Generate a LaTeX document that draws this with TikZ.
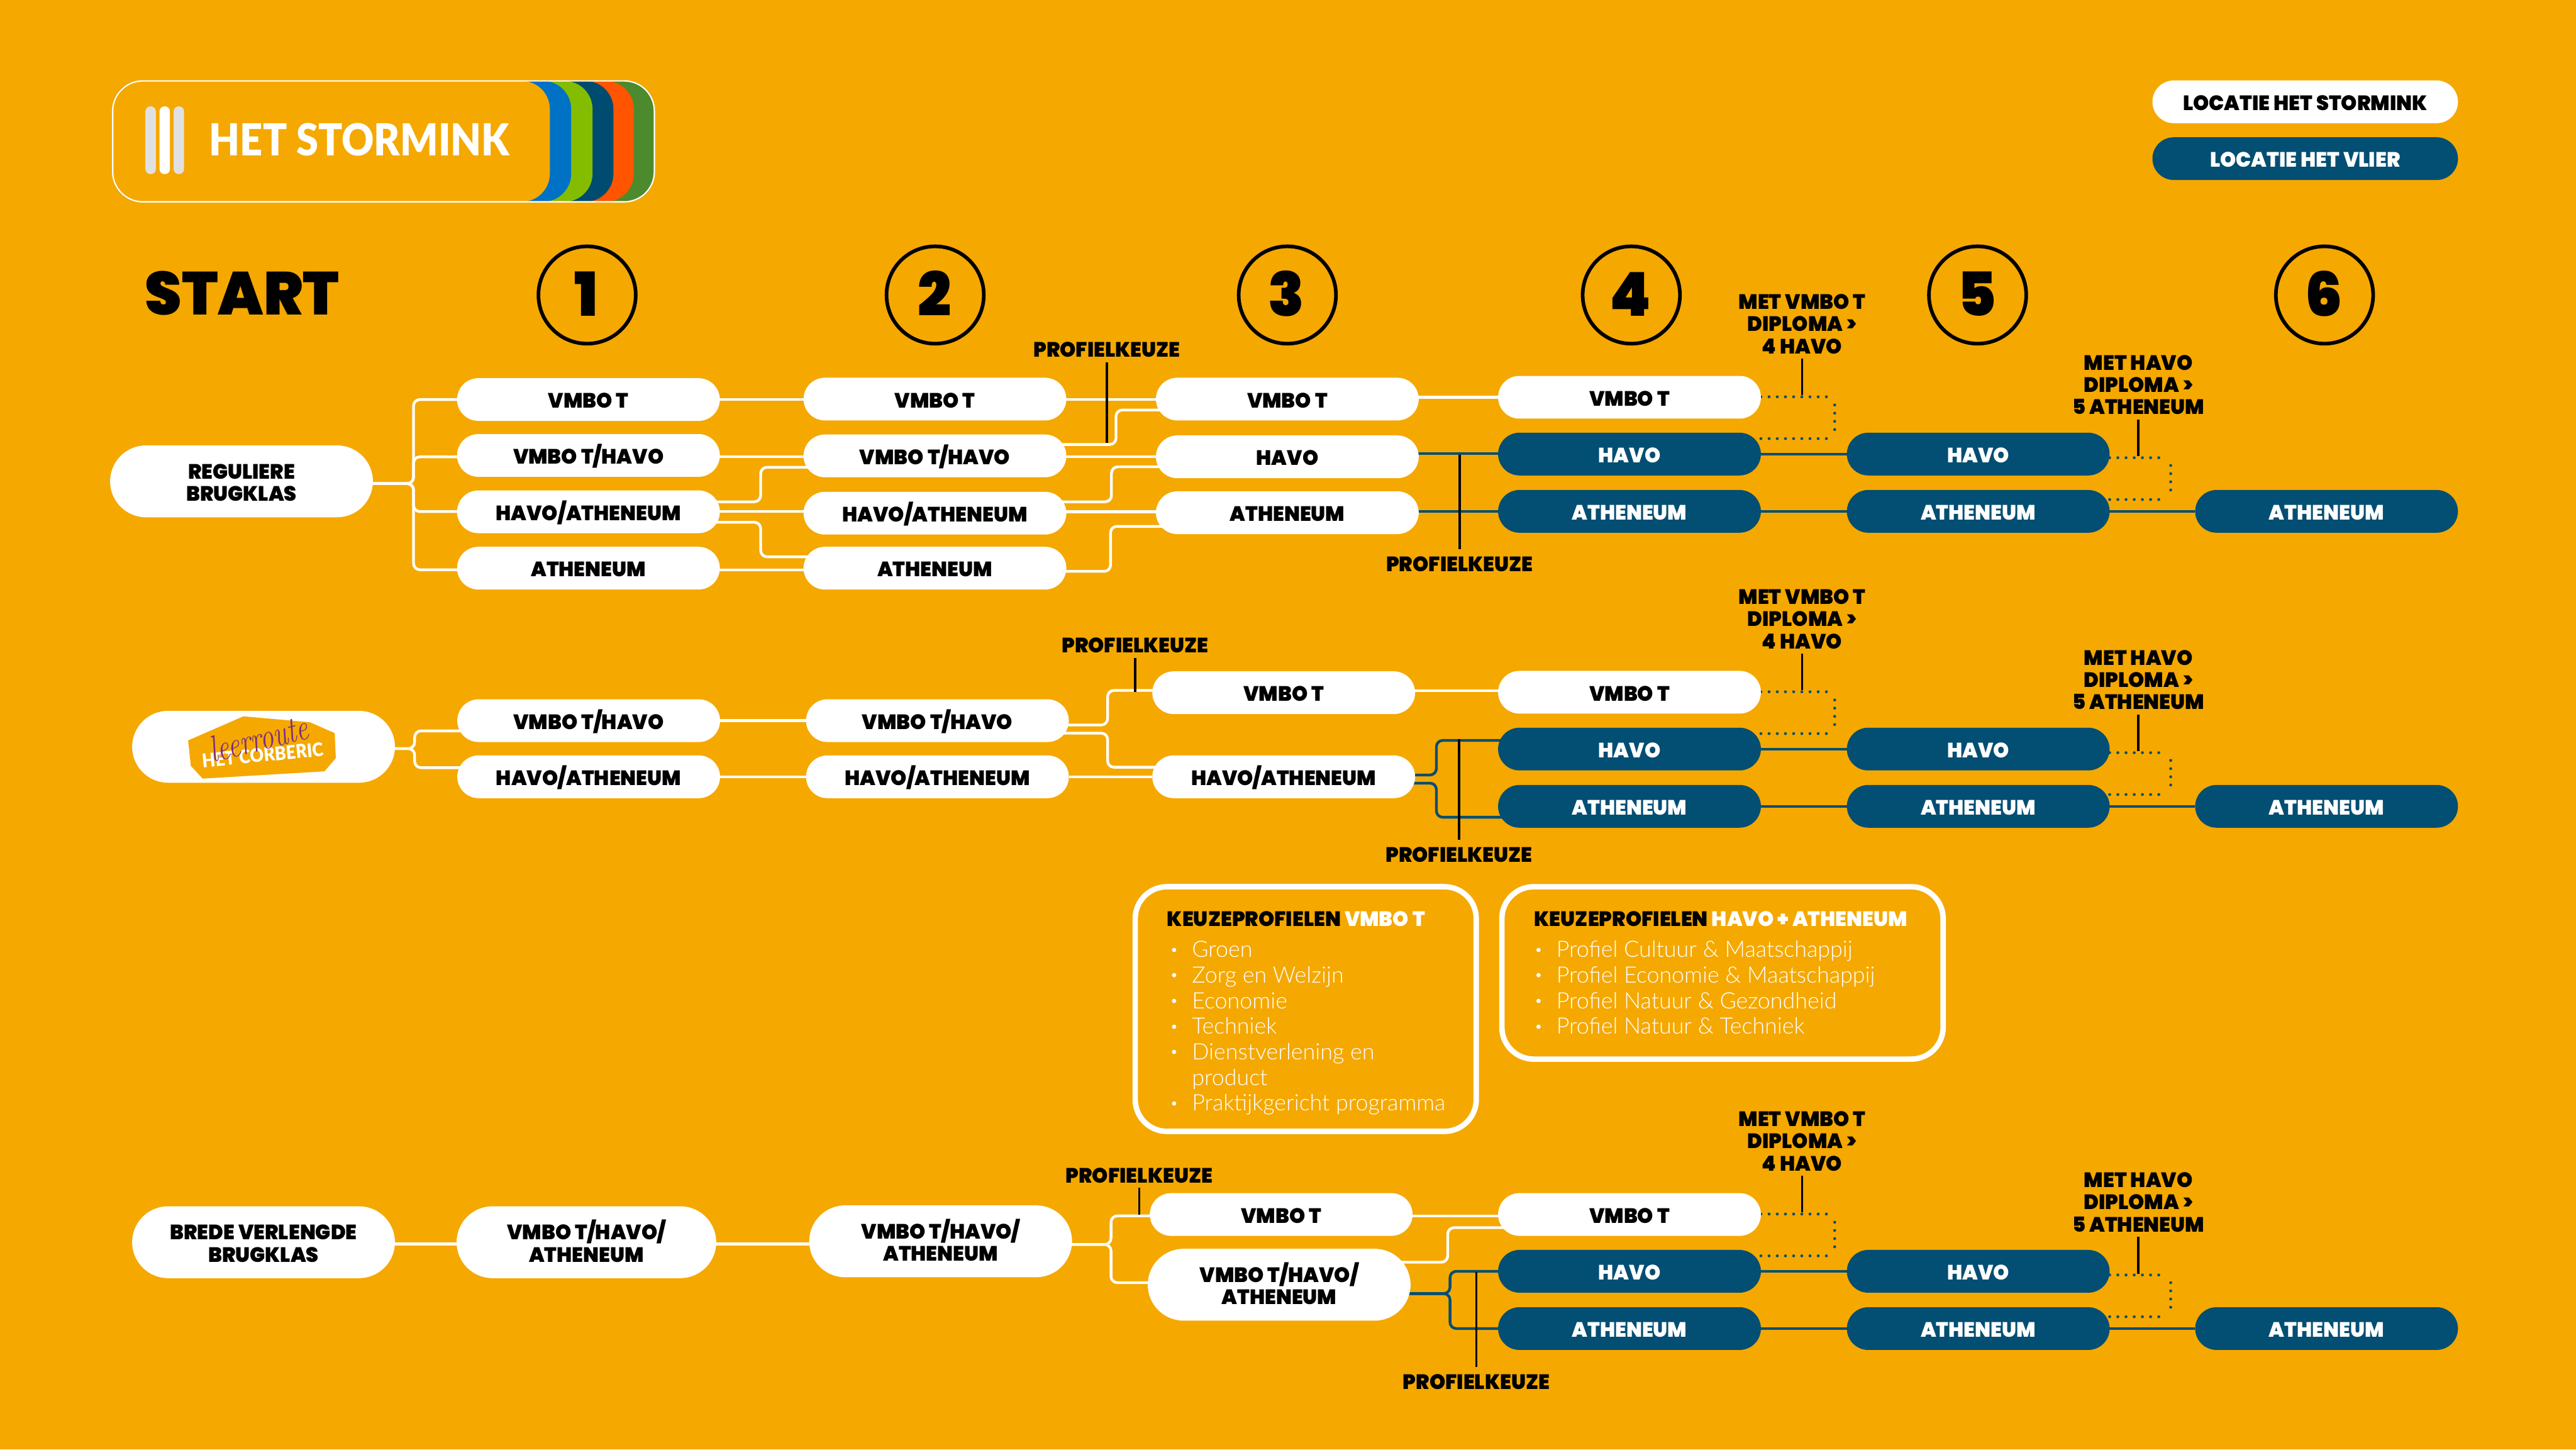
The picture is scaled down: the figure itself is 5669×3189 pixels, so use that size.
\documentclass[tikz,border=0pt]{standalone}
\usepackage{fontspec}
\usetikzlibrary{shapes.misc}
\newfontfamily\blk{Poppins Black}[WordSpace=1.1,FakeStretch=0.97]
\newfontfamily\lgt{Lato Light}
\newfontfamily\logofont{Lato Black}[FakeStretch=0.9]
\definecolor{bgo}{HTML}{F5A800}
\definecolor{navy}{HTML}{034E73}
\definecolor{lblue}{HTML}{0072C6}
\definecolor{lgreen}{HTML}{84BD00}
\definecolor{lnavy}{HTML}{004C70}
\definecolor{lorange}{HTML}{FF5500}
\definecolor{ldgreen}{HTML}{4C8A2D}
\definecolor{lgrey}{HTML}{E0E0E0}
\definecolor{lpurple}{HTML}{7B2D80}
\newcommand\capl[1]{\raisebox{0pt}[.38cm][0pt]{#1}}
\newcommand\lblf{\blk\fontsize{13}{13.94}\selectfont}
\pgfdeclarelayer{conn}
\pgfsetlayers{conn,main}
\tikzset{
  pillw/.style={rounded rectangle,rounded rectangle arc length=180,fill=white,text=black,minimum width=5.78cm,minimum height=.94cm,inner sep=0pt,outer sep=0pt,align=center,font=\lblf},
  pilln/.style={pillw,fill=navy,text=white},
  tall/.style={minimum height=1.58cm},
  wl/.style={draw=white,line width=.06cm,rounded corners=.14cm},
  nl/.style={draw=navy,line width=.06cm,rounded corners=.14cm},
  annot/.style={draw=black,line width=.05cm},
  note/.style={text=black,font=\lblf,align=center,inner sep=.105cm},
  dots/.style={draw=navy,line width=.065cm,line cap=round,dash pattern=on 0pt off .18cm},
  num/.style={circle,draw=black,line width=.08cm,minimum size=2.14cm,inner sep=0pt,text=black,font=\blk\fontsize{38}{38}\selectfont},
  kbox/.style={draw=white,line width=.12cm,rounded corners=.7cm,inner sep=0pt},
  ktitle/.style={anchor=base west,inner sep=0pt,text=black,font=\lblf},
  kitem/.style={anchor=base west,inner sep=0pt,text=white,font=\lgt\fontsize{14.1}{16}\selectfont},
}
\newcommand\kbul[1]{\makebox[.485cm][l]{\raisebox{.06cm}{\fontsize{9}{9}\selectfont•}}#1}
\newcommand\rightpart[2]{%
\begin{scope}[yshift={-#2*0.01cm}]
  \node[pillw] (#1vt) at (3586,874) {\capl{VMBO T}};
  \node[pilln] (#1ha) at (3586,999) {\capl{HAVO}};
  \node[pilln] (#1at) at (3586,1125) {\capl{ATHENEUM}};
  \node[pilln] (#1hb) at (4353.5,999) {\capl{HAVO}};
  \node[pilln] (#1ab) at (4353.5,1125) {\capl{ATHENEUM}};
  \node[pilln] (#1ac) at (5120,1125) {\capl{ATHENEUM}};
  \node[note] (#1mv) at (3966,710) {\capl{MET VMBO T}\\\capl{DIPLOMA >}\\\capl{4 HAVO}};
  \node[note] (#1mh) at (4706,844) {\capl{MET HAVO}\\\capl{DIPLOMA >}\\\capl{5 ATHENEUM}};
  \coordinate (#1mve) at (3966,869);
  \coordinate (#1mhe) at (4706,1004);
  \draw[annot] (#1mv.south) -- (#1mve);
  \draw[annot] (#1mh.south) -- (#1mhe);
  \begin{pgfonlayer}{conn}
    \draw[nl] (#1ha.east) -- (#1hb.west);
    \draw[nl] (#1at.east) -- (#1ab.west);
    \draw[nl] (#1ab.east) -- (#1ac.west);
    \draw[dots] (#1vt.east |- 0,873) -- (4023,873);
    \draw[dots] (4037.5,891) -- (4037.5,948);
    \draw[dots] (#1ha.east |- 0,965) ++(0,0) -- (4023,965);
    \draw[dots] (#1hb.east |- 0,1007) -- (4759,1007);
    \draw[dots] (4777,1024) -- (4777,1082);
    \draw[dots] (#1ab.east |- 0,1099) -- (4759,1099);
  \end{pgfonlayer}
\end{scope}}
\begin{document}
\begin{tikzpicture}[x=0.01cm,y=-0.01cm]
\useasboundingbox (0,0) rectangle (5669,3189);
\begin{pgfonlayer}{conn}
  \fill[bgo] (0,0) rectangle (5669,3189);
\end{pgfonlayer}
% logo
\fill[ldgreen,rounded corners=.62cm] (248,178) rectangle (1440,444);
\fill[lorange,rounded corners=.62cm] (248,178) rectangle (1395,444);
\fill[lnavy,rounded corners=.62cm] (248,178) rectangle (1350,444);
\fill[lgreen,rounded corners=.62cm] (248,178) rectangle (1304,444);
\fill[lblue,rounded corners=.62cm] (248,178) rectangle (1257,444);
\fill[bgo,rounded corners=.62cm] (248,178) rectangle (1210,444);
\draw[white,line width=.03cm,rounded corners=.66cm] (248,178) rectangle (1440,444);
\fill[lgrey,rounded corners=.11cm] (320,234) rectangle (343,383);
\fill[white,rounded corners=.11cm] (351,234) rectangle (374,383);
\fill[lgrey,rounded corners=.11cm] (382,234) rectangle (405,383);
\node[inner sep=0pt,text=white,font=\logofont\fontsize{27.6}{30}\selectfont] (logotxt) at (791,308) {\raisebox{0pt}[.68cm][0pt]{HET STORMINK}};
% legend
\node[pillw,minimum width=6.72cm] (legw) at (5073,224) {\capl{LOCATIE HET STORMINK}};
\node[pilln,minimum width=6.72cm] (legn) at (5073,349) {\capl{LOCATIE HET VLIER}};
% header
\node[inner sep=0pt,text=black,font=\blk\fontsize{38}{38}\selectfont] (start) at (533,646) {\raisebox{0pt}[.94cm][0pt]{START}};
\node[num] (n1) at (1292,649) {\raisebox{0pt}[.94cm][0pt]{1\kern.04cm}};
\node[num] (n2) at (2058,649) {\raisebox{0pt}[.94cm][0pt]{2\kern.04cm}};
\node[num] (n3) at (2833,649) {\raisebox{0pt}[.94cm][0pt]{3\kern.04cm}};
\node[num] (n4) at (3590,649) {\raisebox{0pt}[.94cm][0pt]{4\kern.04cm}};
\node[num] (n5) at (4352,649) {\raisebox{0pt}[.94cm][0pt]{5\kern.04cm}};
\node[num] (n6) at (5115.5,649) {\raisebox{0pt}[.94cm][0pt]{6\kern.04cm}};
% right-hand parts
\rightpart{a}{0}
\rightpart{b}{649}
\rightpart{c}{1798}
% ROW 1
\node[pillw,tall] (as) at (531.5,1059) {\capl{REGULIERE}\\\capl{BRUGKLAS}};
\node[pillw] (a1v) at (1295,879) {\capl{VMBO T}};
\node[pillw] (a1m) at (1295,1002) {\capl{VMBO T/HAVO}};
\node[pillw] (a1h) at (1295,1126) {\capl{HAVO/ATHENEUM}};
\node[pillw] (a1a) at (1295,1250) {\capl{ATHENEUM}};
\node[pillw] (a2v) at (2057.5,878) {\capl{VMBO T}};
\node[pillw] (a2m) at (2057.5,1003) {\capl{VMBO T/HAVO}};
\node[pillw] (a2h) at (2057.5,1129) {\capl{HAVO/ATHENEUM}};
\node[pillw] (a2a) at (2057.5,1250) {\capl{ATHENEUM}};
\node[pillw] (a3v) at (2833,878) {\capl{VMBO T}};
\node[pillw] (a3h) at (2833,1005) {\capl{HAVO}};
\node[pillw] (a3a) at (2833,1128) {\capl{ATHENEUM}};
\node[note] (apt) at (2436,767) {\capl{PROFIELKEUZE}};
\node[note] (apb) at (3212,1238) {\capl{PROFIELKEUZE}};
\coordinate (apte) at (2436,974);
\coordinate (apbe) at (3212,1000);
\draw[annot] (apt.south) -- (apte);
\draw[annot] (apb.north) -- (apbe);
\begin{pgfonlayer}{conn}
  \foreach \t/\y in {a1v/879,a1m/1005,a1h/1125.5,a1a/1253.5}
    \draw[wl] (as.center |- 0,1064) -- (910,1064) -- (910,\y) -- (\t.center |- 0,\y);
  \draw[wl] (a1v.center |- 0,879) -- (a2v.center |- 0,879);
  \draw[wl] (a1m.center |- 0,1005) -- (a2m.center |- 0,1005);
  \draw[wl] (a1h.center |- 0,1125.5) -- (a2h.center |- 0,1125.5);
  \draw[wl] (a1a.center |- 0,1253.5) -- (a2a.center |- 0,1253.5);
  \draw[wl] (a1h.center |- 0,1104) -- (1674,1104) -- (1674,1028) -- (a2m.center |- 0,1028);
  \draw[wl] (a1h.center |- 0,1149) -- (1674,1149) -- (1674,1225) -- (a2a.center |- 0,1225);
  \draw[wl] (a2v.center |- 0,879) -- (a3v.center |- 0,879);
  \draw[wl] (a2m.center |- 0,978) -- (2456,978) -- (2456,902) -- (a3v.center |- 0,902);
  \draw[wl] (a2m.center |- 0,1005) -- (a3h.center |- 0,1005);
  \draw[wl] (a2h.center |- 0,1104) -- (2446,1104) -- (2446,1027) -- (a3h.center |- 0,1027);
  \draw[wl] (a2h.center |- 0,1126) -- (a3a.center |- 0,1126);
  \draw[wl] (a2a.center |- 0,1257) -- (2444,1257) -- (2444,1158) -- (a3a.center |- 0,1158);
  \draw[wl] (a3v.center |- 0,874) -- (avt.center |- 0,874);
  \draw[nl] (a3h.center |- 0,998) -- (aha.center |- 0,998);
  \draw[nl] (a3a.center |- 0,1125.5) -- (aat.center |- 0,1125.5);
\end{pgfonlayer}
% ROW 2
\node[pillw,tall] (bs) at (580,1643) {};
\fill[bgo] (535.7,1576) -- (682,1589) -- (736.6,1613) -- (739,1668) -- (714,1697) -- (446,1713) -- (420,1685) -- (414,1629) -- cycle;
\node[rotate=5.5,inner sep=0pt,text=white,font=\logofont\fontsize{11.8}{12}\selectfont] (bs2) at (578,1661) {HET CORBERIC};
\node[rotate=14,inner sep=0pt,text=lpurple,font=\rmfamily\itshape\fontsize{17}{17}\selectfont] (bs1) at (569,1624) {\scalebox{1}[1.35]{leerroute}};
\node[pillw] (b1m) at (1295.5,1585.5) {\capl{VMBO T/HAVO}};
\node[pillw] (b1h) at (1295.5,1709) {\capl{HAVO/ATHENEUM}};
\node[pillw] (b2m) at (2063,1585.5) {\capl{VMBO T/HAVO}};
\node[pillw] (b2h) at (2063,1709) {\capl{HAVO/ATHENEUM}};
\node[pillw] (b3v) at (2825,1524) {\capl{VMBO T}};
\node[pillw] (b3h) at (2825,1709) {\capl{HAVO/ATHENEUM}};
\node[note] (bpt) at (2498,1417) {\capl{PROFIELKEUZE}};
\node[note] (bpb) at (3211,1878) {\capl{PROFIELKEUZE}};
\coordinate (bpte) at (2498,1523);
\coordinate (bpbe) at (3211,1626);
\draw[annot] (bpt.south) -- (bpte);
\draw[annot] (bpb.north) -- (bpbe);
\begin{pgfonlayer}{conn}
  \draw[wl] (bs.center |- 0,1647) -- (912.5,1647) -- (912.5,1608) -- (b1m.center |- 0,1608);
  \draw[wl] (bs.center |- 0,1647) -- (912.5,1647) -- (912.5,1689) -- (b1h.center |- 0,1689);
  \draw[wl] (b1m.east) -- (b2m.west);
  \draw[wl] (b1h.east) -- (b2h.west);
  \draw[wl] (b2h.east) -- (b3h.west);
  \draw[wl] (b2m.center |- 0,1595) -- (2437.5,1595) -- (2437.5,1519) -- (b3v.center |- 0,1519);
  \draw[wl] (b2m.center |- 0,1613) -- (2437.5,1613) -- (2437.5,1688) -- (b3h.center |- 0,1688);
  \draw[wl] (b3v.center |- 0,1520) -- (bvt.center |- 0,1520);
  \draw[nl] (b3h.center |- 0,1705) -- (3161,1705) -- (3161,1629) -- (bha.center |- 0,1629);
  \draw[nl] (b3h.center |- 0,1723) -- (3161,1723) -- (3161,1798) -- (bat.center |- 0,1798);
\end{pgfonlayer}
% KEUZE boxes
\node[kbox,minimum width=7.50cm,minimum height=5.38cm] (k1) at (2873.5,2220) {};
\node[kbox,minimum width=9.705cm,minimum height=3.79cm] (k2) at (3790.7,2140.5) {};
\node[ktitle] (k1t) at (2568,2038) {KEUZEPROFIELEN {\color{white}VMBO T}};
\node[ktitle] (k2t) at (3376,2038) {KEUZEPROFIELEN {\color{white}HAVO + ATHENEUM}};
\node[kitem] (k1a) at (2574,2106) {\kbul{Groen}};
\node[kitem] (k1b) at (2574,2162) {\kbul{Zorg en Welzijn}};
\node[kitem] (k1c) at (2574,2219) {\kbul{Economie}};
\node[kitem] (k1d) at (2574,2275) {\kbul{Techniek}};
\node[kitem] (k1e) at (2574,2331) {\kbul{Dienstverlening en}};
\node[kitem] (k1f) at (2622.5,2388) {product};
\node[kitem] (k1g) at (2574,2444) {\kbul{Praktijkgericht programma}};
\node[kitem] (k2a) at (3376,2106) {\kbul{Profiel Cultuur \& Maatschappij}};
\node[kitem] (k2b) at (3376,2162) {\kbul{Profiel Economie \& Maatschappij}};
\node[kitem] (k2c) at (3376,2219) {\kbul{Profiel Natuur \& Gezondheid}};
\node[kitem] (k2d) at (3376,2275) {\kbul{Profiel Natuur \& Techniek}};
% ROW 3
\node[pillw,tall] (cs) at (580,2733) {\capl{BREDE VERLENGDE}\\\capl{BRUGKLAS}};
\node[pillw,tall,minimum width=5.71cm] (c1) at (1290.5,2733) {\capl{VMBO T/HAVO/}\\\capl{ATHENEUM}};
\node[pillw,tall] (c2) at (2070,2731) {\capl{VMBO T/HAVO/}\\\capl{ATHENEUM}};
\node[pillw] (c3v) at (2819.5,2672) {\capl{VMBO T}};
\node[pillw,tall] (c3m) at (2815,2826.5) {\capl{VMBO T/HAVO/}\\\capl{ATHENEUM}};
\node[note] (cpt) at (2507,2583) {\capl{PROFIELKEUZE}};
\node[note] (cpb) at (3249,3037) {\capl{PROFIELKEUZE}};
\coordinate (cpte) at (2507,2672);
\coordinate (cpbe) at (3249,2799);
\draw[annot] (cpt.south) -- (cpte);
\draw[annot] (cpb.north) -- (cpbe);
\begin{pgfonlayer}{conn}
  \draw[wl] (cs.center |- 0,2737) -- (c1.center |- 0,2737);
  \draw[wl] (c1.center |- 0,2737) -- (c2.center |- 0,2737);
  \draw[wl] (c2.center |- 0,2738) -- (2445,2738) -- (2445,2675) -- (c3v.center |- 0,2675);
  \draw[wl] (c2.center |- 0,2738) -- (2445,2738) -- (2445,2822) -- (c3m.center |- 0,2822);
  \draw[wl] (c3v.center |- 0,2675) -- (cvt.center |- 0,2675);
  \draw[wl] (c3m.center |- 0,2777) -- (3186,2777) -- (3186,2701) -- (cvt.center |- 0,2701);
  \draw[nl] (c3m.center |- 0,2846) -- (3191,2846) -- (3191,2797) -- (cha.center |- 0,2797);
  \draw[nl] (c3m.center |- 0,2846) -- (3191,2846) -- (3191,2923) -- (cat.center |- 0,2923);
\end{pgfonlayer}
\end{tikzpicture}
\end{document}
